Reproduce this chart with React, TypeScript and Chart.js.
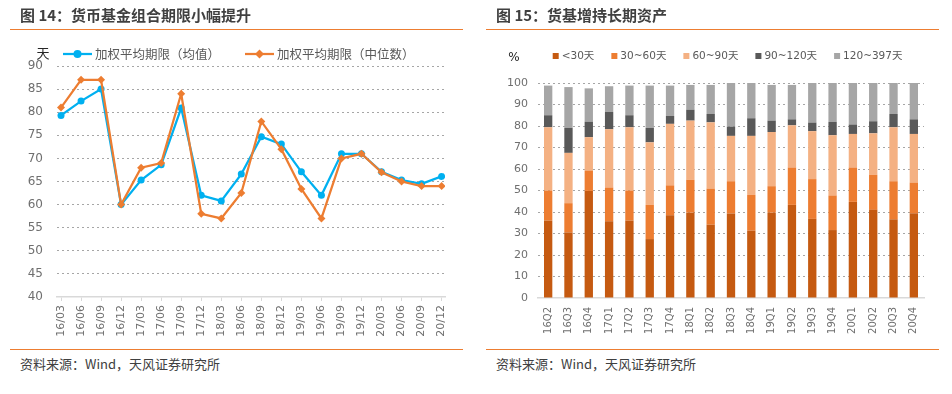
import React, { useEffect, useRef } from "react";
import { Chart, registerables } from "chart.js";
import { drawPoint } from "chart.js/helpers";

Chart.register(...registerables);

// ---------- Data: Figure 14 ----------
const periodLabels = [
  "16/03", "16/06", "16/09", "16/12", "17/03", "17/06", "17/09", "17/12", "18/03", "18/06",
  "18/09", "18/12", "19/03", "19/06", "19/09", "19/12", "20/03", "20/06", "20/09", "20/12",
];
const meanMaturity = [79.3, 82.4, 85, 60, 65.3, 68.6, 80.9, 62, 60.8, 66.6, 74.7, 73.1, 67.1, 62, 71, 71, 67.1, 65.3, 64.5, 66.1];
const medianMaturity = [81, 87, 87, 60, 68, 69, 84, 58, 57, 62.5, 78, 72, 63.4, 57, 70, 71, 67, 65, 64, 64];
const meanLabel = "加权平均期限（均值）";
const medianLabel = "加权平均期限（中位数）";

// ---------- Data: Figure 15 ----------
const quarterLabels = [
  "16Q2", "16Q3", "16Q4", "17Q1", "17Q2", "17Q3", "17Q4", "18Q1", "18Q2", "18Q3",
  "18Q4", "19Q1", "19Q2", "19Q3", "19Q4", "20Q1", "20Q2", "20Q3", "20Q4",
];
const bucketLabels = ["<30天", "30~60天", "60~90天", "90~120天", "120~397天"];
const lt30 = [36.0, 30.5, 49.8, 35.7, 36.0, 27.4, 38.5, 39.7, 34.1, 39.3, 31.3, 39.7, 43.3, 36.8, 31.6, 44.7, 41.0, 36.6, 39.4];
const d30to60 = [14.0, 13.6, 9.5, 15.7, 14.0, 15.9, 13.9, 15.3, 16.8, 15.0, 16.7, 12.3, 17.4, 18.5, 16.1, 16.0, 16.3, 17.7, 14.3];
const d60to90 = [29.4, 23.4, 15.5, 27.1, 29.4, 29.1, 28.6, 27.5, 30.8, 21.1, 27.4, 25.2, 19.6, 22.3, 28.0, 15.6, 19.3, 25.1, 22.6];
const d90to120 = [5.6, 11.6, 7.2, 8.0, 5.6, 6.7, 3.7, 5.1, 3.9, 4.3, 8.2, 5.3, 2.8, 4.0, 6.2, 4.4, 5.6, 6.2, 6.8];
const d120to397 = [13.8, 19.0, 15.5, 12.0, 13.8, 19.7, 14.1, 11.5, 13.5, 20.3, 16.4, 16.6, 16.0, 18.4, 18.1, 19.3, 17.8, 14.4, 16.9];

const FONT = "'DejaVu Sans', 'Noto Sans CJK SC', sans-serif";
const CJK = "'Noto Sans CJK SC', 'DejaVu Sans', sans-serif";
const TICK_COLOR = "#6f6f6f";
const GRID_COLOR = "#a6a6a6";
const AXIS_COLOR = "#d9d9d9";
const ORANGE = "#ED7D31";
const GRID_DASH = [2, 3];

Chart.defaults.font.family = FONT;

const legendPlugin = {
  id: "customLegend",
  afterDraw(chart: any, _args: any, opts: any) {
    if (!opts || !opts.enabled) return;
    const ctx = chart.ctx;
    ctx.save();
    ctx.textBaseline = "middle";
    if (opts.unit) {
      ctx.font = opts.unitFont;
      ctx.fillStyle = opts.unitColor;
      ctx.textAlign = "center";
      ctx.fillText(opts.unit, opts.unitX, opts.unitY);
    }
    ctx.font = opts.font;
    ctx.textAlign = "left";
    let x = opts.x;
    const y = opts.y;
    chart.data.datasets.forEach((ds: any) => {
      if (opts.kind === "line") {
        ctx.strokeStyle = ds.borderColor;
        ctx.lineWidth = ds.borderWidth;
        ctx.beginPath();
        ctx.moveTo(x, y);
        ctx.lineTo(x + opts.symbolWidth, y);
        ctx.stroke();
        ctx.fillStyle = ds.pointBackgroundColor;
        ctx.strokeStyle = ds.pointBorderColor;
        drawPoint(ctx, { pointStyle: ds.pointStyle, radius: ds.pointRadius + 0.5, rotation: 0, borderWidth: 0 } as any, x + opts.symbolWidth / 2, y);
      } else {
        ctx.fillStyle = ds.backgroundColor;
        ctx.fillRect(x, y - opts.symbolWidth / 2, opts.symbolWidth, opts.symbolWidth);
      }
      x += opts.symbolWidth + opts.textGap;
      ctx.fillStyle = opts.color;
      ctx.fillText(ds.label, x, y);
      x += ctx.measureText(ds.label).width + opts.itemGap;
    });
    ctx.restore();
  },
};

function LineChart() {
  const ref = useRef<HTMLCanvasElement | null>(null);
  useEffect(() => {
    if (!ref.current) return;
    const chart = new Chart(ref.current, {
      type: "line",
      data: {
        datasets: [
          {
            label: meanLabel,
            data: meanMaturity.map((v, i) => ({ x: i, y: v })),
            borderColor: "#00B0F0",
            backgroundColor: "#00B0F0",
            pointBackgroundColor: "#00B0F0",
            pointBorderColor: "#00B0F0",
            borderWidth: 2.25,
            pointStyle: "circle",
            pointRadius: 3.5,
            pointBorderWidth: 0,
            order: 1,
          },
          {
            label: medianLabel,
            data: medianMaturity.map((v, i) => ({ x: i, y: v })),
            borderColor: ORANGE,
            backgroundColor: ORANGE,
            pointBackgroundColor: ORANGE,
            pointBorderColor: ORANGE,
            borderWidth: 2.25,
            pointStyle: "rectRot",
            pointRadius: 4,
            pointBorderWidth: 0,
            order: 0,
          },
        ] as any,
      },
      options: {
        animation: false,
        responsive: false,
        layout: { padding: { top: 66, left: 0, right: 31, bottom: 0 } },
        plugins: {
          legend: { display: false },
          tooltip: { enabled: false },
          customLegend: {
            enabled: true,
            kind: "line",
            x: 63,
            y: 54,
            symbolWidth: 29,
            textGap: 3,
            itemGap: 25,
            font: `12.5px ${CJK}`,
            color: "#595959",
            unit: "天",
            unitX: 43,
            unitY: 53,
            unitFont: `13px ${CJK}`,
            unitColor: "#262626",
          },
        } as any,
        scales: {
          x: {
            type: "linear",
            min: -0.2,
            max: 19.17,
            afterFit: (s: any) => { s.height = 48; },
            afterBuildTicks: (s: any) => { s.ticks = periodLabels.map((_, i) => ({ value: i })); },
            ticks: {
              autoSkip: false,
              minRotation: 90,
              maxRotation: 90,
              padding: 4,
              color: TICK_COLOR,
              font: { size: 11 },
              callback: (v: any) => periodLabels[Math.round(Number(v))] ?? "",
            },
            grid: { display: true, drawOnChartArea: false, drawTicks: true, tickLength: 4, color: AXIS_COLOR, lineWidth: 1 },
            border: { display: true, color: AXIS_COLOR, width: 1.5 },
          },
          y: {
            min: 40,
            max: 90,
            afterFit: (s: any) => { s.width = 57; },
            ticks: { stepSize: 5, padding: 14, color: TICK_COLOR, font: { size: 12 } },
            grid: {
              drawTicks: false,
              color: (c: any) => (c.tick && c.tick.value === 40 ? "rgba(0,0,0,0)" : GRID_COLOR),
              lineWidth: 1,
            },
            border: { display: false, dash: GRID_DASH },
          },
        },
      } as any,
      plugins: [legendPlugin],
    });
    return () => chart.destroy();
  }, []);
  return <canvas ref={ref} width={476} height={345} style={{ position: "absolute", left: 0, top: 0, width: 476, height: 345 }} />;
}

function BarChart() {
  const ref = useRef<HTMLCanvasElement | null>(null);
  useEffect(() => {
    if (!ref.current) return;
    const colors = ["#C55A11", ORANGE, "#F4B183", "#595959", "#A6A6A6"];
    const series = [lt30, d30to60, d60to90, d90to120, d120to397];
    const chart = new Chart(ref.current, {
      type: "bar",
      data: {
        labels: quarterLabels,
        datasets: series.map((d, i) => ({
          label: bucketLabels[i],
          data: d,
          backgroundColor: colors[i],
          borderWidth: 0,
          barPercentage: 0.41,
          categoryPercentage: 1,
        })),
      },
      options: {
        animation: false,
        responsive: false,
        layout: { padding: { top: 83, left: 0, right: 28, bottom: 0 } },
        plugins: {
          legend: { display: false },
          tooltip: { enabled: false },
          customLegend: {
            enabled: true,
            kind: "box",
            x: 76.7,
            y: 56,
            symbolWidth: 6,
            textGap: 3,
            itemGap: 17,
            font: `10.5px ${FONT}`,
            color: "#595959",
            unit: "%",
            unitX: 38,
            unitY: 58,
            unitFont: `12px ${FONT}`,
            unitColor: "#262626",
          },
        } as any,
        scales: {
          x: {
            stacked: true,
            offset: true,
            afterFit: (s: any) => { s.height = 47; },
            ticks: { autoSkip: false, minRotation: 90, maxRotation: 90, padding: 9, color: TICK_COLOR, font: { size: 10 } },
            grid: { display: true, drawOnChartArea: false, drawTicks: false, tickLength: 0 },
            border: { display: true, color: AXIS_COLOR, width: 1.5 },
          },
          y: {
            stacked: true,
            min: 0,
            max: 100,
            afterFit: (s: any) => { s.width = 62; },
            ticks: { stepSize: 10, padding: 10, color: TICK_COLOR, font: { size: 11 } },
            grid: {
              drawTicks: false,
              color: (c: any) => (c.tick && c.tick.value === 0 ? "rgba(0,0,0,0)" : GRID_COLOR),
              lineWidth: 1,
            },
            border: { display: false, dash: GRID_DASH },
          },
        },
      } as any,
      plugins: [legendPlugin],
    });
    return () => chart.destroy();
  }, []);
  return <canvas ref={ref} width={476} height={345} style={{ position: "absolute", left: 0, top: 0, width: 476, height: 345 }} />;
}

function Panel({ left, title, children }: { left: number; title: string; children: React.ReactNode }) {
  return (
    <div style={{ position: "absolute", left, top: 0, width: 476, height: 394 }}>
      {children}
      <div
        style={{
          position: "absolute",
          left: 20,
          top: 5,
          font: `bold 15px ${CJK}`,
          lineHeight: "20px",
          color: "#404040",
          whiteSpace: "nowrap",
        }}
      >
        {title}
      </div>
      <div style={{ position: "absolute", left: 10, top: 28.5, width: 453, height: 1.5, background: ORANGE }} />
      <div style={{ position: "absolute", left: 10, top: 348.5, width: 453, height: 1.5, background: ORANGE }} />
      <div
        style={{
          position: "absolute",
          left: 20,
          top: 355,
          font: `13px ${CJK}`,
          lineHeight: "18px",
          color: "#404040",
          whiteSpace: "nowrap",
        }}
      >
        资料来源：Wind，天风证券研究所
      </div>
    </div>
  );
}

export default function App() {
  return (
    <div style={{ position: "absolute", left: 0, top: 0, width: 952, height: 394, background: "#ffffff", overflow: "hidden" }}>
      <Panel left={0} title="图 14：货币基金组合期限小幅提升">
        <LineChart />
      </Panel>
      <Panel left={476} title="图 15：货基增持长期资产">
        <BarChart />
      </Panel>
    </div>
  );
}
